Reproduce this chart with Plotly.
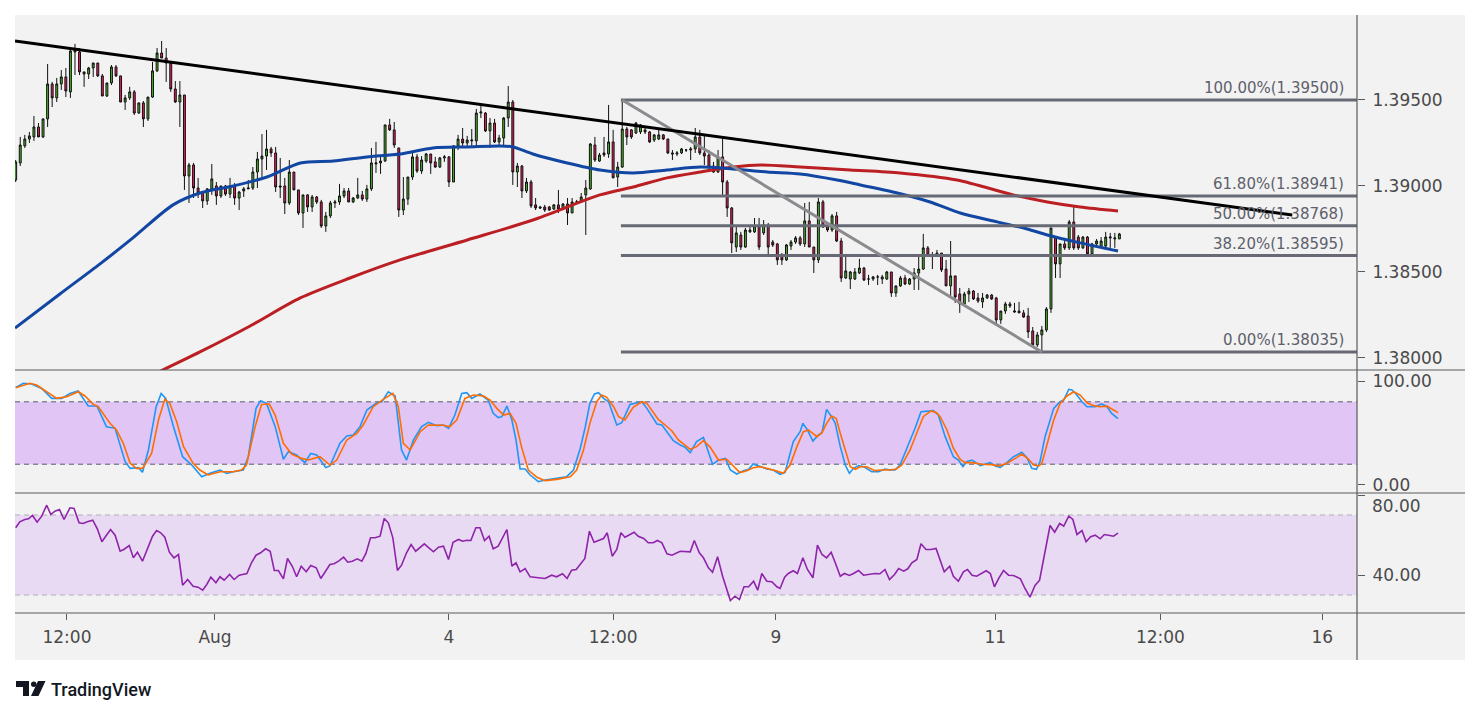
import plotly.graph_objects as go

# ---------------- data ----------------
open_ = [1.39035,1.39134,1.39233,1.39273,1.39285,1.39343,1.39285,1.39390,1.39593,1.39512,
1.39593,1.39634,1.39547,1.39791,1.39779,1.39663,1.39651,1.39686,1.39715,1.39640,
1.39523,1.39599,1.39692,1.39640,1.39488,1.39512,1.39547,1.39424,1.39483,1.39390,
1.39517,1.39669,1.39773,1.39744,1.39715,1.39564,1.39488,1.39529,1.39058,1.39122,
1.38988,1.38965,1.38913,1.38983,1.39000,1.38942,1.39000,1.38953,1.39000,1.38930,
1.38971,1.38983,1.38988,1.39081,1.39157,1.39174,1.39215,1.39192,1.39000,1.39000,
1.38901,1.39081,1.38977,1.38843,1.38948,1.38878,1.38936,1.38907,1.38767,1.38826,
1.38901,1.38907,1.38942,1.38971,1.38907,1.38930,1.38948,1.38924,1.38983,1.39128,
1.39134,1.39145,1.39355,1.39326,1.39221,1.38860,1.38924,1.39052,1.39169,1.39087,
1.39145,1.39186,1.39140,1.39110,1.39163,1.39169,1.39023,1.39233,1.39273,1.39250,
1.39262,1.39262,1.39424,1.39424,1.39320,1.39366,1.39256,1.39279,1.39395,1.39488,
1.39081,1.39116,1.38971,1.39023,1.38890,1.38878,1.38878,1.38878,1.38866,1.38890,
1.38866,1.38895,1.38843,1.38907,1.38907,1.38948,1.38983,1.39238,1.39145,1.39192,
1.39186,1.39256,1.39052,1.39110,1.39331,1.39326,1.39308,1.39314,1.39326,1.39314,
1.39267,1.39273,1.39297,1.39273,1.39192,1.39186,1.39192,1.39209,1.39209,1.39215,
1.39285,1.39192,1.39180,1.39116,1.39081,1.39169,1.39023,1.38872,1.38645,1.38715,
1.38645,1.38733,1.38733,1.38767,1.38727,1.38773,1.38674,1.38663,1.38593,1.38570,
1.38651,1.38674,1.38698,1.38663,1.38797,1.38645,1.38570,1.38907,1.38762,1.38744,
1.38826,1.38680,1.38465,1.38459,1.38459,1.38494,1.38523,1.38459,1.38459,1.38471,
1.38459,1.38459,1.38500,1.38378,1.38419,1.38465,1.38430,1.38459,1.38494,1.38517,
1.38640,1.38599,1.38593,1.38610,1.38517,1.38419,1.38477,1.38372,1.38314,1.38372,
1.38389,1.38349,1.38326,1.38349,1.38366,1.38349,1.38221,1.38273,1.38302,1.38267,
1.38273,1.38262,1.38244,1.38157,1.38076,1.38134,1.38163,1.38285,1.38703,1.38547,
1.38663,1.38640,1.38791,1.38703,1.38640,1.38703,1.38605,1.38663,1.38651,1.38651,
1.38698,1.38692,1.38692]

high = [1.39151,1.39285,1.39297,1.39314,1.39407,1.39366,1.39390,1.39709,1.39605,1.39628,
1.39674,1.39686,1.39802,1.39826,1.39802,1.39663,1.39692,1.39715,1.39715,1.39651,
1.39599,1.39703,1.39703,1.39640,1.39529,1.39576,1.39558,1.39483,1.39494,1.39517,
1.39721,1.39802,1.39843,1.39802,1.39715,1.39610,1.39610,1.39529,1.39134,1.39134,
1.39047,1.38971,1.38988,1.39128,1.39023,1.39000,1.39006,1.39047,1.39017,1.38971,
1.38994,1.39035,1.39110,1.39198,1.39302,1.39326,1.39227,1.39227,1.39163,1.39047,
1.39151,1.39081,1.38977,1.38948,1.38953,1.38948,1.38942,1.38919,1.38849,1.38913,
1.38919,1.39012,1.38988,1.38988,1.38936,1.39047,1.38971,1.39006,1.39221,1.39256,
1.39180,1.39355,1.39390,1.39372,1.39221,1.39052,1.39052,1.39192,1.39186,1.39174,
1.39192,1.39186,1.39169,1.39169,1.39180,1.39174,1.39238,1.39297,1.39337,1.39291,
1.39331,1.39448,1.39471,1.39430,1.39395,1.39390,1.39297,1.39401,1.39581,1.39500,
1.39134,1.39122,1.39047,1.39035,1.38930,1.38884,1.38890,1.38884,1.38895,1.38977,
1.38901,1.38930,1.38930,1.38919,1.38959,1.39035,1.39250,1.39285,1.39192,1.39285,
1.39471,1.39326,1.39140,1.39500,1.39343,1.39331,1.39372,1.39360,1.39337,1.39320,
1.39302,1.39326,1.39302,1.39273,1.39209,1.39203,1.39221,1.39215,1.39227,1.39337,
1.39326,1.39297,1.39209,1.39140,1.39209,1.39285,1.39035,1.38878,1.38762,1.38733,
1.38756,1.38762,1.38814,1.38814,1.38802,1.38785,1.38686,1.38669,1.38610,1.38663,
1.38686,1.38709,1.38709,1.38901,1.38907,1.38645,1.38930,1.38919,1.38773,1.38837,
1.38849,1.38698,1.38605,1.38506,1.38523,1.38576,1.38529,1.38483,1.38477,1.38483,
1.38483,1.38506,1.38500,1.38419,1.38477,1.38483,1.38465,1.38523,1.38599,1.38721,
1.38651,1.38616,1.38628,1.38610,1.38570,1.38680,1.38477,1.38407,1.38384,1.38407,
1.38395,1.38378,1.38378,1.38372,1.38372,1.38355,1.38273,1.38326,1.38326,1.38320,
1.38326,1.38279,1.38291,1.38180,1.38151,1.38186,1.38296,1.38756,1.38703,1.38663,
1.38698,1.38802,1.38878,1.38715,1.38709,1.38709,1.38669,1.38692,1.38703,1.38733,
1.38727,1.38727,1.38727]

low = [1.39023,1.39116,1.39221,1.39250,1.39262,1.39285,1.39279,1.39343,1.39459,1.39488,
1.39558,1.39517,1.39512,1.39645,1.39645,1.39576,1.39622,1.39634,1.39634,1.39523,
1.39517,1.39587,1.39634,1.39488,1.39442,1.39500,1.39413,1.39419,1.39343,1.39378,
1.39512,1.39663,1.39744,1.39605,1.39547,1.39483,1.39343,1.38977,1.38901,1.38930,
1.38930,1.38872,1.38890,1.38948,1.38890,1.38930,1.38942,1.38930,1.38890,1.38860,
1.38936,1.38983,1.38977,1.38988,1.39035,1.39093,1.39169,1.38965,1.38930,1.38837,
1.38890,1.38977,1.38831,1.38756,1.38849,1.38849,1.38895,1.38756,1.38733,1.38814,
1.38872,1.38890,1.38930,1.38907,1.38901,1.38924,1.38913,1.38907,1.38971,1.39076,
1.39070,1.39140,1.39320,1.39221,1.38820,1.38831,1.38890,1.39035,1.39076,1.39070,
1.39134,1.39070,1.39105,1.39105,1.39140,1.38994,1.39023,1.39209,1.39227,1.39221,
1.39221,1.39221,1.39395,1.39314,1.39221,1.39250,1.39227,1.39238,1.39343,1.39006,
1.38994,1.38930,1.38959,1.38872,1.38860,1.38866,1.38849,1.38855,1.38860,1.38843,
1.38860,1.38773,1.38843,1.38895,1.38901,1.38715,1.38977,1.39140,1.39140,1.39169,
1.39163,1.39047,1.38994,1.39105,1.39238,1.39273,1.39302,1.39302,1.39302,1.39250,
1.39256,1.39267,1.39267,1.39186,1.39151,1.39174,1.39186,1.39198,1.39151,1.39192,
1.39180,1.39122,1.39081,1.39076,1.39076,1.38948,1.38820,1.38610,1.38616,1.38628,
1.38640,1.38727,1.38727,1.38628,1.38715,1.38599,1.38645,1.38541,1.38541,1.38564,
1.38628,1.38663,1.38651,1.38645,1.38645,1.38494,1.38552,1.38756,1.38733,1.38733,
1.38674,1.38442,1.38459,1.38401,1.38453,1.38488,1.38448,1.38424,1.38448,1.38424,
1.38430,1.38453,1.38355,1.38355,1.38413,1.38424,1.38424,1.38395,1.38395,1.38512,
1.38593,1.38517,1.38587,1.38500,1.38419,1.38355,1.38320,1.38262,1.38308,1.38326,
1.38337,1.38320,1.38291,1.38343,1.38337,1.38192,1.38198,1.38256,1.38291,1.38262,
1.38262,1.38233,1.38116,1.38064,1.38064,1.38035,1.38151,1.38262,1.38465,1.38465,
1.38628,1.38628,1.38628,1.38628,1.38634,1.38599,1.38599,1.38657,1.38645,1.38645,
1.38640,1.38640,1.38692]

close = [1.39140,1.39238,1.39273,1.39291,1.39343,1.39285,1.39390,1.39593,1.39512,1.39593,
1.39634,1.39552,1.39785,1.39779,1.39663,1.39651,1.39686,1.39715,1.39640,1.39523,
1.39599,1.39692,1.39640,1.39488,1.39512,1.39547,1.39424,1.39483,1.39390,1.39517,
1.39669,1.39773,1.39744,1.39715,1.39564,1.39488,1.39529,1.39058,1.39122,1.38988,
1.38959,1.38913,1.38983,1.39041,1.38942,1.39000,1.38953,1.39000,1.38930,1.38965,
1.38983,1.38988,1.39081,1.39157,1.39174,1.39215,1.39192,1.38994,1.38994,1.38901,
1.39081,1.38977,1.38843,1.38948,1.38878,1.38936,1.38907,1.38767,1.38826,1.38901,
1.38907,1.38942,1.38971,1.38907,1.38930,1.38948,1.38924,1.38983,1.39134,1.39134,
1.39145,1.39355,1.39326,1.39238,1.38860,1.38924,1.39052,1.39169,1.39087,1.39151,
1.39186,1.39134,1.39110,1.39163,1.39169,1.39023,1.39233,1.39273,1.39250,1.39267,
1.39267,1.39424,1.39430,1.39320,1.39366,1.39256,1.39279,1.39395,1.39488,1.39081,
1.39116,1.38971,1.39023,1.38884,1.38872,1.38872,1.38860,1.38860,1.38890,1.38866,
1.38895,1.38843,1.38907,1.38907,1.38936,1.38988,1.39244,1.39151,1.39180,1.39180,
1.39256,1.39047,1.39110,1.39331,1.39285,1.39285,1.39366,1.39355,1.39314,1.39256,
1.39297,1.39297,1.39273,1.39192,1.39186,1.39192,1.39215,1.39209,1.39215,1.39285,
1.39192,1.39174,1.39110,1.39081,1.39169,1.39023,1.38872,1.38669,1.38727,1.38645,
1.38744,1.38744,1.38767,1.38645,1.38773,1.38645,1.38657,1.38570,1.38570,1.38657,
1.38674,1.38698,1.38663,1.38797,1.38645,1.38570,1.38907,1.38762,1.38744,1.38826,
1.38680,1.38465,1.38506,1.38500,1.38500,1.38523,1.38453,1.38459,1.38471,1.38471,
1.38471,1.38500,1.38378,1.38419,1.38465,1.38430,1.38459,1.38494,1.38517,1.38640,
1.38599,1.38599,1.38610,1.38512,1.38419,1.38477,1.38355,1.38314,1.38372,1.38389,
1.38343,1.38331,1.38349,1.38366,1.38343,1.38221,1.38273,1.38314,1.38314,1.38273,
1.38262,1.38238,1.38151,1.38076,1.38134,1.38163,1.38285,1.38756,1.38547,1.38663,
1.38640,1.38791,1.38640,1.38640,1.38703,1.38605,1.38663,1.38680,1.38680,1.38703,
1.38703,1.38698,1.38721]

bar_index = list(range(len(close)))

# moving averages (bar position, value)
ma_fast_x = [-0.15, 9.7, 18.5, 25.7, 34.5, 40.4, 47.7, 55.1, 62.4, 69.6, 77.0, 84.3, 91.5, 99.0,
             106.2, 109.1, 113.4, 120.9, 128.1, 135.4, 142.8, 150.1, 157.3, 164.8, 172.0, 180.1,
             185.2, 193.3, 200.5, 207.1, 215.2, 221.8, 226.2, 233.4, 241.7]
ma_fast = [1.38174, 1.38372, 1.38547, 1.38698, 1.38890, 1.38959, 1.39000, 1.39052, 1.39134,
           1.39145, 1.39169, 1.39186, 1.39221, 1.39227, 1.39233, 1.39227, 1.39186, 1.39134,
           1.39093, 1.39076, 1.39093, 1.39110, 1.39099, 1.39081, 1.39070, 1.39035, 1.39006,
           1.38959, 1.38907, 1.38843, 1.38791, 1.38750, 1.38715, 1.38669, 1.38622]
ma_slow_x = [29.5, 40.4, 51.4, 62.4, 73.3, 84.3, 99.0, 113.4, 128.1, 135.4, 142.8, 150.1, 157.3,
             163.3, 172.0, 183.0, 193.9, 206.4, 218.7, 226.2, 233.4, 241.7]
ma_slow = [1.37895, 1.38035, 1.38186, 1.38349, 1.38465, 1.38570, 1.38686, 1.38802, 1.38948,
           1.38994, 1.39047, 1.39081, 1.39110, 1.39122, 1.39110, 1.39093, 1.39076, 1.39035,
           1.38948, 1.38907, 1.38878, 1.38855]

# drawings
trend_x = [-0.15, 279.9]
trend_y = [1.39843, 1.38831]
swing_x = [133, 225]
swing_y = [1.39500, 1.38035]
fib_levels = [1.39500, 1.38941, 1.38768, 1.38595, 1.38035]
fib_names = ["100.00%", "61.80%", "50.00%", "38.20%", "0.00%"]

# stochastic %K / %D and RSI (bar position, value)
stoch_k_pts = [(0,93.9),(1.7,97.8),(3.5,97.1),(5.7,92.9),(7.9,83.3),(10.1,83.3),(11.9,88.1),(13.7,90.4),
(15.9,76.0),(17.8,76.0),(19.9,56.1),(21.8,54.5),(24.0,22.4),(25.1,16.0),(26.9,16.7),(27.8,12.2),(29.1,33.7),
(30.8,75.3),(31.9,88.1),(32.9,83.3),(34.6,56.1),(36.6,27.2),(38.6,19.2),(40.8,8.0),(42.6,11.2),(44.8,14.4),
(46.3,11.2),(47.7,12.8),(49.9,14.4),(51.0,27.2),(52.7,73.7),(53.7,81.1),(55.0,78.5),(56.9,56.1),(58.7,24.7),
(59.8,32.1),(61.6,28.8),(63.4,21.5),(64.7,30.4),(66.0,28.8),(68.0,16.7),(68.9,18.3),(71.1,40.1),(72.6,47.1),
(74.0,48.1),(75.5,56.1),(77.0,72.1),(79.2,79.1),(80.3,80.1),(81.7,89.7),(83.2,85.6),(84.6,33.7),(85.7,24.0),
(87.2,43.3),(89.0,56.1),(90.5,60.3),(92.3,57.1),(93.8,57.7),(94.9,54.5),(96.3,67.3),(97.8,88.1),(98.9,88.8),
(100.0,83.3),(101.8,87.5),(103.6,81.7),(104.7,68.9),(105.8,64.8),(106.6,65.7),(107.7,75.9),(108.8,62.5),
(109.7,43.3),(110.6,15.4),(111.7,15.4),(112.8,9.6),(114.6,3.2),(116.1,4.8),(118.6,6.4),(120.8,8.0),
(122.3,14.4),(123.8,35.3),(124.9,56.1),(125.9,78.5),(126.9,87.5),(127.8,88.8),(128.9,83.3),(130.0,80.1),
(131.8,57.7),(132.9,60.0),(134.7,77.5),(137.3,80.1),(138.4,73.7),(139.9,64.1),(140.6,58.7),(141.7,57.7),
(142.8,51.3),(144.2,42.6),(145.7,38.5),(146.8,36.2),(147.9,31.1),(149.3,41.7),(150.8,45.8),(152.8,19.9),
(154.1,24.0),(155.6,25.6),(156.7,14.4),(158.1,10.6),(159.6,13.8),(160.7,15.1),(161.7,20.2),(163.2,17.6),
(164.7,15.4),(166.1,14.4),(167.6,10.3),(168.7,12.2),(170.5,41.7),(172.0,51.3),(172.6,59.3),(173.6,52.9),
(174.8,42.3),(176.0,48.1),(176.8,50.3),(177.8,72.7),(178.9,65.7),(179.7,59.3),(180.8,36.9),(181.9,19.2),
(182.8,11.2),(183.7,16.0),(184.8,18.6),(185.9,17.6),(186.6,16.0),(187.7,12.8),(189.2,12.8),(190.6,15.4),
(191.7,14.4),(192.8,14.4),(193.9,19.2),(195.4,35.3),(197.2,54.5),(198.5,70.5),(200.1,71.5),(201.2,71.5),
(202.3,67.3),(203.8,46.5),(205.6,27.2),(206.7,24.0),(207.7,17.6),(208.5,22.4),(209.7,24.0),(210.7,20.8),
(211.5,18.6),(212.6,20.2),(213.7,21.5),(214.8,18.3),(215.9,17.0),(217.3,21.5),(218.8,27.2),(220.6,31.4),
(221.7,26.6),(222.8,16.0),(223.8,15.1),(224.6,22.4),(225.7,46.5),(227.6,73.7),(229.0,80.1),(229.8,81.7),
(230.9,92.0),(231.6,91.3),(232.5,87.5),(233.8,80.1),(234.9,75.3),(236.7,75.3),(238.1,77.9),(239.3,75.3),
(240.3,68.9),(241.7,63.8)]

stoch_d_pts = [(0,93.6),(3.1,97.8),(4.6,96.2),(6.8,89.7),(9.0,83.3),(11.2,84.9),(13.7,89.7),(15.2,85.6),
(17.0,77.5),(18.1,75.3),(20.7,59.3),(22.1,52.9),(23.6,40.1),(25.1,20.8),(26.5,16.0),(27.8,16.0),(29.8,30.4),
(31.3,62.5),(32.7,82.4),(33.8,78.5),(35.3,60.9),(36.8,36.9),(38.9,20.8),(40.4,14.4),(42.2,9.6),(44.8,12.8),
(47.7,12.8),(49.5,14.4),(50.6,19.2),(52.5,56.1),(53.9,77.5),(55.6,77.9),(56.9,67.3),(58.7,40.1),(60.5,29.8),
(62.7,25.6),(64.2,24.0),(66.7,27.2),(68.9,19.2),(70.4,24.0),(72.6,43.3),(74.8,49.7),(76.2,57.7),(78.4,75.3),
(80.6,82.4),(82.7,88.1),(83.9,75.3),(85.0,40.1),(86.5,33.7),(88.7,51.3),(90.5,57.7),(93.8,57.4),(95.2,56.1),
(96.7,62.5),(98.5,83.3),(100.4,86.5),(102.6,85.6),(104.0,81.7),(105.5,73.7),(107.0,67.3),(108.4,68.9),
(109.7,59.3),(110.9,36.9),(112.4,14.4),(114.3,7.4),(116.1,4.2),(118.6,5.4),(121.6,8.0),(123.0,14.4),
(124.5,33.7),(125.9,59.3),(127.4,80.1),(128.5,86.5),(129.6,84.3),(131.1,75.3),(132.2,65.7),(133.6,62.5),
(135.4,74.7),(137.3,80.1),(138.4,78.5),(139.5,72.1),(140.9,63.1),(142.4,57.7),(143.9,52.0),(145.3,43.3),
(147.9,34.3),(149.3,36.9),(150.8,42.6),(152.3,36.2),(154.1,24.0),(155.9,24.7),(157.4,17.6),(158.8,11.9),
(160.3,13.8),(161.7,16.6),(163.2,17.6),(165.0,15.7),(166.9,13.5),(168.3,11.2),(169.8,19.2),(171.3,36.9),
(172.0,43.3),(172.7,51.3),(173.8,52.9),(174.9,49.1),(175.7,46.5),(176.8,50.3),(177.8,59.3),(178.9,66.3),
(179.9,64.1),(180.8,49.7),(181.9,33.7),(183.0,17.6),(184.1,15.1),(185.2,17.6),(186.6,17.6),(188.4,13.8),
(189.9,14.4),(191.7,14.4),(193.1,15.4),(194.3,19.2),(196.1,33.7),(197.6,51.3),(199.0,65.7),(200.7,71.2),
(201.9,69.6),(202.7,65.7),(204.2,52.9),(205.6,35.3),(207.1,24.7),(208.2,21.5),(209.7,21.5),(211.8,19.9),
(214.0,19.6),(215.7,18.3),(217.3,20.8),(219.2,25.6),(220.6,29.8),(222.1,24.7),(223.2,19.2),(224.3,18.3),
(225.0,20.8),(226.1,38.5),(227.6,62.5),(229.0,78.5),(230.5,85.6),(232.0,89.7),(233.4,86.5),(234.9,79.1),
(236.3,76.3),(237.8,75.3),(239.3,75.9),(240.7,72.1),(241.7,69.6)]

rsi_pts = [(0,63.6),(0.9,66.6),(2.0,67.75),(2.8,68.1),(3.7,69.75),(4.7,66.4),(5.7,69.4),(6.8,74.9),(7.7,70.25),
(8.6,71.9),(9.6,72.75),(10.6,67.75),(11.9,73.6),(12.8,73.25),(13.9,66.1),(14.8,65.75),(15.7,66.6),(16.9,67.4),
(17.9,63.1),(18.9,56.6),(19.9,59.9),(20.8,62.75),(21.8,59.9),(22.9,51.9),(23.7,52.75),(24.9,54.75),(25.8,48.6),
(26.7,51.4),(27.8,46.9),(28.9,52.75),(30.0,59.4),(30.9,62.25),(31.8,61.1),(32.7,58.9),(33.7,51.4),(34.7,48.6),
(35.7,50.25),(36.6,34.9),(37.7,37.75),(38.9,34.4),(40.0,33.9),(41.0,32.4),(41.9,35.25),(42.8,38.9),(43.9,36.1),
(44.8,39.1),(45.7,37.4),(46.9,40.25),(47.9,37.75),(49.0,39.9),(50.7,40.75),(51.7,46.1),(52.7,49.9),(53.7,51.1),
(54.8,53.1),(55.8,51.9),(56.7,42.25),(57.6,42.25),(58.7,38.1),(59.6,48.25),(60.7,44.1),(61.6,39.1),(62.6,44.4),
(63.7,41.6),(64.7,44.75),(65.9,43.6),(66.9,38.25),(67.8,41.4),(68.9,45.25),(69.8,45.6),(70.8,46.9),(71.9,48.9),
(72.8,46.4),(73.8,46.9),(74.9,48.1),(75.9,46.9),(76.8,50.75),(77.8,58.6),(78.8,58.6),(79.9,59.4),(80.8,68.25),
(81.7,66.1),(82.7,58.6),(83.7,42.25),(84.6,44.9),(85.7,51.1),(86.7,55.25),(87.7,51.9),(88.7,53.9),(89.6,55.6),
(90.6,53.6),(91.6,51.6),(92.7,53.9),(93.8,54.4),(94.9,47.75),(95.9,56.4),(97.1,57.75),(98.0,56.9),(98.9,57.4),
(99.8,57.25),(100.9,63.6),(101.8,63.6),(102.8,57.25),(103.8,59.4),(104.7,53.1),(105.8,54.4),(107.7,62.75),
(108.8,44.4),(109.7,46.1),(110.6,41.6),(111.7,43.25),(112.8,39.1),(114.6,38.6),(116.1,38.25),(117.5,39.9),
(118.6,39.1),(119.9,40.6),(120.9,38.25),(121.9,42.4),(122.9,42.75),(124.8,48.25),(125.8,61.9),(126.8,56.4),
(128.1,57.75),(128.9,58.25),(129.7,61.1),(130.8,49.4),(131.8,52.75),(132.7,61.1),(133.6,58.9),(135.6,61.4),
(136.5,59.4),(137.7,58.25),(138.7,56.1),(139.8,56.1),(140.7,57.25),(141.7,56.1),(142.8,50.6),(143.9,49.9),
(145.7,51.9),(147.9,51.6),(148.8,57.25),(149.9,51.1),(150.8,48.6),(151.9,43.6),(152.8,41.4),(153.9,49.1),
(155.0,39.4),(156.7,27.25),(157.7,29.4),(158.7,27.75),(159.7,34.1),(160.7,34.1),(161.8,36.9),(162.7,32.4),
(163.6,40.75),(164.7,36.9),(165.8,36.6),(166.9,34.1),(167.6,33.25),(168.6,38.9),(169.4,40.75),(170.5,42.1),
(171.4,40.75),(172.6,48.6),(173.6,42.75),(174.8,38.6),(175.8,54.9),(176.8,50.25),(177.8,48.6),(178.8,51.4),
(179.7,46.1),(180.8,39.4),(181.7,40.75),(182.8,39.75),(183.7,40.75),(184.8,42.25),(185.9,39.9),(187.4,40.25),
(188.4,40.75),(189.5,40.6),(190.6,42.75),(191.6,37.75),(192.7,40.25),(193.6,43.25),(194.7,41.9),(195.6,43.1),
(196.5,46.1),(197.6,47.75),(198.5,55.6),(199.6,52.75),(200.7,52.75),(201.8,53.25),(202.7,46.9),(203.6,41.6),
(204.8,44.4),(205.6,39.4),(206.7,36.9),(207.8,41.6),(208.7,42.75),(209.7,39.9),(210.7,39.4),(211.9,40.75),
(212.8,42.1),(213.7,40.75),(214.6,34.1),(215.6,38.6),(216.6,42.25),(217.7,39.9),(218.8,39.75),(220.3,38.1),
(221.3,33.25),(222.4,28.9),(223.5,34.75),(224.5,37.4),(225.7,52.75),(226.8,64.75),(227.8,61.4),(228.9,65.75),
(229.8,64.4),(230.9,69.4),(231.8,67.75),(232.7,60.25),(233.8,62.25),(234.7,56.6),(235.7,59.1),(236.7,59.9),
(237.8,58.1),(238.7,60.25),(239.6,59.9),(240.7,59.4),(241.7,60.9)]

price_ticks = [1.38000, 1.38500, 1.39000, 1.39500]
stoch_ticks = [0, 100]
stoch_bands = [20, 80]
rsi_ticks = [40, 80]
rsi_bands = [30, 70]
x_tick_pos = [11.25, 43.7, 95.0, 131.0, 166.7, 214.8, 251.0, 286.5]
x_tick_text = ["12:00", "Aug", "4", "12:00", "9", "11", "12:00", "16"]

# ---------------- layout geometry ----------------
# the page body has an 8px default margin, so the figure is drawn 8px in from the window corner
OFF = 8
W, H = 1479 - 2 * OFF, 714 - 2 * OFF
PL, PR, PT, PB = 15, 1357, 15, 613          # plot area in window px
X_RANGE = [-0.15, 294.1]
PRICE_RANGE = [1.37930, 1.39994]
STOCH_RANGE = [-7.7, 110.6]
RSI_RANGE = [21, 81]


def px(x):
    return (x - PL) / (PR - PL)


def py(y):
    return (PB - y) / (PB - PT)


AXIS_FONT = dict(family="DejaVu Sans", size=17, color="#4a4a4a")
SEP = "#5a5a5a"

fig = go.Figure()

fig.add_trace(go.Candlestick(
    x=bar_index, open=open_, high=high, low=low, close=close,
    increasing=dict(line=dict(color="#111111", width=1), fillcolor="#46b523"),
    decreasing=dict(line=dict(color="#111111", width=1), fillcolor="#ec1c5f"),
    xaxis="x", yaxis="y", showlegend=False, hoverinfo="skip"))

fig.add_trace(go.Scatter(x=ma_slow_x, y=ma_slow, mode="lines", yaxis="y",
                         line=dict(color="#bb1f24", width=3, shape="spline", smoothing=0.8),
                         showlegend=False, hoverinfo="skip"))
fig.add_trace(go.Scatter(x=ma_fast_x, y=ma_fast, mode="lines", yaxis="y",
                         line=dict(color="#1146a3", width=3, shape="spline", smoothing=0.8),
                         showlegend=False, hoverinfo="skip"))

# fibonacci levels
for lvl in fib_levels:
    fig.add_trace(go.Scatter(x=[swing_x[0] - 0.3, X_RANGE[1]], y=[lvl, lvl], mode="lines", yaxis="y",
                             line=dict(color="#676a74", width=3), showlegend=False, hoverinfo="skip"))
fig.add_trace(go.Scatter(x=swing_x, y=swing_y, mode="lines", yaxis="y",
                         line=dict(color="#8b8b8f", width=3), showlegend=False, hoverinfo="skip"))
fig.add_trace(go.Scatter(x=trend_x, y=trend_y, mode="lines", yaxis="y",
                         line=dict(color="#000000", width=3), showlegend=False, hoverinfo="skip"))

# stochastic
kx, ky = zip(*stoch_k_pts)
dx, dy = zip(*stoch_d_pts)
fig.add_trace(go.Scatter(x=kx, y=ky, mode="lines", yaxis="y2",
                         line=dict(color="#2196f3", width=1.6), showlegend=False, hoverinfo="skip"))
fig.add_trace(go.Scatter(x=dx, y=dy, mode="lines", yaxis="y2",
                         line=dict(color="#ff6d00", width=1.6), showlegend=False, hoverinfo="skip"))

# RSI
rx, ry = zip(*rsi_pts)
fig.add_trace(go.Scatter(x=rx, y=ry, mode="lines", yaxis="y3",
                         line=dict(color="#8e24aa", width=1.6), showlegend=False, hoverinfo="skip"))

shapes = []
# grey chart background
shapes.append(dict(type="rect", xref="paper", yref="paper", x0=px(15), x1=px(1465), y0=py(660), y1=py(15),
                   fillcolor="#f2f2f2", line=dict(width=0), layer="below"))
# stochastic band
shapes.append(dict(type="rect", xref="paper", yref="y2", x0=0, x1=1, y0=stoch_bands[0], y1=stoch_bands[1],
                   fillcolor="#e1c5f5", line=dict(width=0), layer="below"))
for b in stoch_bands:
    shapes.append(dict(type="line", xref="paper", yref="y2", x0=0, x1=1, y0=b, y1=b,
                       line=dict(color="#5a5a66", width=1, dash="5px,4px"), layer="below"))
# RSI band
shapes.append(dict(type="rect", xref="paper", yref="y3", x0=0, x1=1, y0=rsi_bands[0], y1=rsi_bands[1],
                   fillcolor="#e9daf3", line=dict(width=0), layer="below"))
for b in rsi_bands:
    shapes.append(dict(type="line", xref="paper", yref="y3", x0=0, x1=1, y0=b, y1=b,
                       line=dict(color="#b4acbb", width=1, dash="5px,4px"), layer="below"))
# pane separators and axis border
for ysep in (370, 493, 613):
    shapes.append(dict(type="line", xref="paper", yref="paper", x0=px(15), x1=px(1465), y0=py(ysep), y1=py(ysep),
                       line=dict(color=SEP, width=1.2), layer="above"))
shapes.append(dict(type="line", xref="paper", yref="paper", x0=1, x1=1, y0=py(660), y1=py(15),
                   line=dict(color=SEP, width=1.2), layer="above"))


# TradingView logo (bottom left)
def pth(points):
    return "M " + " L ".join(f"{px(a):.5f},{py(b):.5f}" for a, b in points) + " Z"


shapes.append(dict(type="path", xref="paper", yref="paper",
                   path=pth([(16, 681), (29, 681), (29, 696), (23, 696), (23, 687), (16, 687)]),
                   fillcolor="#131722", line=dict(width=0)))
shapes.append(dict(type="circle", xref="paper", yref="paper", x0=px(31), x1=px(36.5), y0=py(681.5), y1=py(687),
                   fillcolor="#131722", line=dict(width=0)))
shapes.append(dict(type="path", xref="paper", yref="paper",
                   path=pth([(38, 681), (45.5, 681), (38.5, 696), (31, 696)]),
                   fillcolor="#131722", line=dict(width=0)))

annotations = []
for name, lvl in zip(fib_names, fib_levels):
    annotations.append(dict(x=291.7, y=lvl, xref="x", yref="y", text=f"{name}({lvl:.5f})",
                            showarrow=False, xanchor="right", yanchor="bottom", yshift=1,
                            font=dict(family="DejaVu Sans", size=15, color="#5d606b")))
# RSI upper tick label, placed just under the pane separator
annotations.append(dict(x=px(1370), y=py(494), xref="paper", yref="paper", text=f"{rsi_ticks[1]:.2f}",
                        showarrow=False, xanchor="left", yanchor="top", yshift=0,
                        font=AXIS_FONT))
annotations.append(dict(x=px(49), y=py(689), xref="paper", yref="paper", text="TradingView",
                        showarrow=False, xanchor="left", yanchor="middle",
                        font=dict(family="Roboto", size=18, color="#131722", weight=500)))

fig.update_layout(
    width=W, height=H,
    margin=dict(l=PL - OFF, r=(W + OFF) - PR, t=PT - OFF, b=(H + OFF) - PB),
    paper_bgcolor="#ffffff", plot_bgcolor="rgba(0,0,0,0)",
    showlegend=False, hovermode=False, boxgap=0.4,
    font=dict(family="DejaVu Sans"),
    shapes=shapes, annotations=annotations,
    xaxis=dict(domain=[0, 1], range=X_RANGE, anchor="y3", tickvals=x_tick_pos, ticktext=x_tick_text,
               ticks="outside", ticklen=6, tickcolor=SEP, showgrid=False, zeroline=False, showline=False,
               tickfont=AXIS_FONT, ticklabelstandoff=3, rangeslider=dict(visible=False), fixedrange=True),
    yaxis=dict(domain=[py(370), 1], range=PRICE_RANGE, side="right", anchor="x", tickvals=price_ticks,
               tickformat=".5f", ticks="outside", ticklen=7, tickcolor=SEP, showgrid=False, zeroline=False,
               tickfont=AXIS_FONT, ticklabelstandoff=4),
    yaxis2=dict(domain=[py(493), py(370)], range=STOCH_RANGE, side="right", anchor="x", tickvals=stoch_ticks,
                tickformat=".2f", ticks="outside", ticklen=7, tickcolor=SEP, showgrid=False, zeroline=False,
                tickfont=AXIS_FONT, ticklabelstandoff=4),
    yaxis3=dict(domain=[0, py(493)], range=RSI_RANGE, side="right", anchor="x", tickvals=rsi_ticks,
                ticktext=[f"{rsi_ticks[0]:.2f}", ""],
                ticks="outside", ticklen=7, tickcolor=SEP, showgrid=False, zeroline=False,
                tickfont=AXIS_FONT, ticklabelstandoff=4),
)

fig.write_html("out.html")
